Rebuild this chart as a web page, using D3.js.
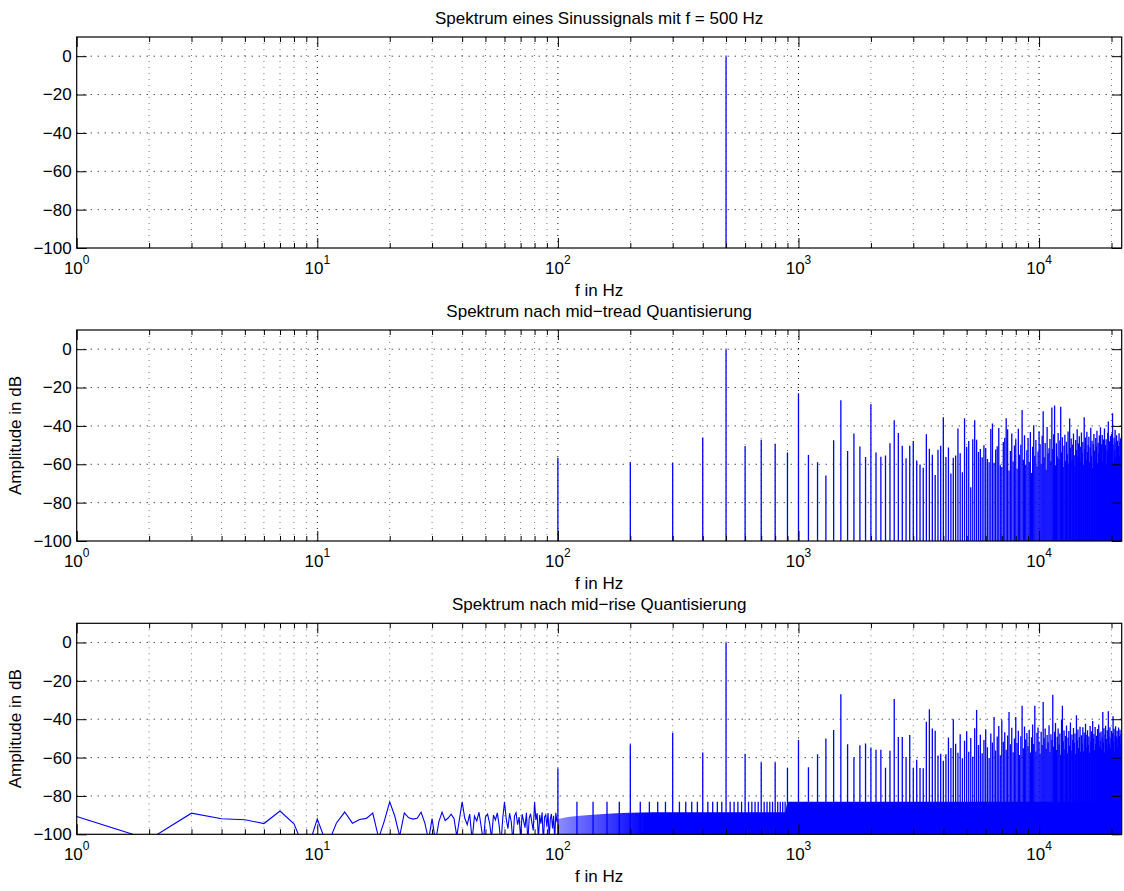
<!DOCTYPE html>
<html><head><meta charset="utf-8">
<script src="https://cdn.jsdelivr.net/npm/d3@7"></script>
<style>body{margin:0;background:#fff;} svg{display:block;}</style>
</head><body>
<svg id="chart" width="1124" height="891"></svg>
<script>
// ---------------- data ----------------
const panelTitles = [
  "Spektrum eines Sinussignals mit f = 500 Hz",
  "Spektrum nach mid\u2212tread Quantisierung",
  "Spektrum nach mid\u2212rise Quantisierung"
];
const xLabel = "f in Hz";
const yLabel = "Amplitude in dB";
const yTicks = [-100, -80, -60, -40, -20, 0];
const xDecades = [1, 10, 100, 1000, 10000];
const xTickExponents = ["0", "1", "2", "3", "4"];

// panel 1: pure sine
const sineFreqs = [500];
const sineDb = [0];

// harmonic grid (aliased harmonics fall on multiples of 100 Hz)
const harmonicFreqs = [
  100,200,300,400,500,600,700,800,900,1000,
  1100,1200,1300,1400,1500,1600,1700,1800,1900,2000,
  2100,2200,2300,2400,2500,2600,2700,2800,2900,3000,
  3100,3200,3300,3400,3500,3600,3700,3800,3900,4000,
  4100,4200,4300,4400,4500,4600,4700,4800,4900,5000,
  5100,5200,5300,5400,5500,5600,5700,5800,5900,6000,
  6100,6200,6300,6400,6500,6600,6700,6800,6900,7000,
  7100,7200,7300,7400,7500,7600,7700,7800,7900,8000,
  8100,8200,8300,8400,8500,8600,8700,8800,8900,9000,
  9100,9200,9300,9400,9500,9600,9700,9800,9900,10000,
  10100,10200,10300,10400,10500,10600,10700,10800,10900,11000,
  11100,11200,11300,11400,11500,11600,11700,11800,11900,12000,
  12100,12200,12300,12400,12500,12600,12700,12800,12900,13000,
  13100,13200,13300,13400,13500,13600,13700,13800,13900,14000,
  14100,14200,14300,14400,14500,14600,14700,14800,14900,15000,
  15100,15200,15300,15400,15500,15600,15700,15800,15900,16000,
  16100,16200,16300,16400,16500,16600,16700,16800,16900,17000,
  17100,17200,17300,17400,17500,17600,17700,17800,17900,18000,
  18100,18200,18300,18400,18500,18600,18700,18800,18900,19000,
  19100,19200,19300,19400,19500,19600,19700,19800,19900,20000,
  20100,20200,20300,20400,20500,20600,20700,20800,20900,21000,
  21100,21200,21300,21400,21500,21600,21700,21800,21900,22000
];

// panel 2: mid-tread quantisation, level of each line in dB
const midTreadDb = [
  -56.6,-58.9,-59.4,-46.1,0,-50.5,-47.2,-49.3,-53.8,-23.0,
  -55.2,-59.0,-65.8,-47.5,-26.6,-53.1,-43.9,-50.7,-56.2,-28.6,
  -53.8,-56.1,-55.4,-49.1,-37.1,-43.7,-50.3,-56.8,-50.3,-47.9,
  -58.0,-60.1,-61.8,-44.4,-51.9,-55.0,-65.6,-52.4,-50.3,-35.5,
  -56.2,-51.2,-64.8,-56.6,-55.4,-41.3,-54.3,-64.1,-36.0,-50.8,
  -47.9,-72.0,-46.9,-37.0,-47.2,-53.6,-52.1,-56.4,-50.1,-51.5,
  -57.3,-58.9,-41.6,-38.8,-59.2,-52.3,-50.6,-41.1,-60.5,-61.4,
  -48.4,-46.2,-36.0,-41.8,-63.2,-53.1,-44.0,-58.5,-50.2,-47.0,
  -62.3,-41.5,-55.0,-49.8,-31.7,-57.6,-44.9,-60.2,-52.7,-46.3,
  -58.8,-43.2,-64.5,-50.9,-39.7,-55.6,-47.4,-61.0,-53.3,-42.8,
  -49.5,-59.7,-45.1,-32.3,-56.4,-48.9,-62.8,-40.6,-54.2,-51.7,
  -46.8,-58.3,-30.4,-52.0,-44.3,-29.3,-60.5,-49.0,-55.9,-43.7,
  -57.2,-47.6,-30.0,-53.8,-45.9,-61.4,-50.3,-44.6,-58.1,-48.2,
  -54.7,-42.9,-59.6,-36.1,-51.4,-46.5,-57.8,-49.7,-44.0,-55.3,
  -60.9,-47.3,-52.6,-41.8,-56.0,-49.2,-45.4,-58.7,-50.8,-43.5,
  -54.1,-48.4,-60.3,-35.5,-51.9,-46.0,-57.4,-43.1,-53.6,-49.9,
  -45.7,-58.9,-51.1,-41.0,-55.5,-47.8,-62.0,-49.4,-44.2,-53.0,
  -57.9,-46.3,-50.6,-42.5,-59.3,-48.8,-54.4,-45.0,-52.2,-40.7,
  -56.7,-49.6,-44.8,-58.4,-47.1,-53.9,-41.4,-55.8,-50.0,-46.9,
  -60.1,-52.8,-43.6,-37.7,-54.5,-48.0,-57.0,-45.3,-51.3,-44.1,
  -55.0,-33.4,-49.7,-58.6,-46.2,-52.5,-42.0,-56.3,-48.6,-44.9,
  -53.4,-47.7,-59.0,-50.5,-43.8,-55.7,-48.3,-46.6,-52.9,-45.5
];

// panel 3: mid-rise quantisation, level of each line in dB
const midRiseDb = [
  -65.7,-53.1,-47.0,-57.3,0,-58.0,-62.5,-62.5,-65.5,-50.8,
  -65.1,-58.3,-50.0,-45.6,-27.0,-53.1,-59.9,-53.6,-52.7,-54.8,
  -55.9,-55.9,-65.3,-56.4,-29.4,-49.3,-49.3,-59.7,-48.2,-65.5,
  -61.1,-65.5,-65.6,-41.3,-34.8,-44.8,-46.0,-58.9,-58.0,-61.6,
  -58.3,-49.5,-55.0,-40.0,-52.8,-57.5,-47.9,-60.4,-51.2,-46.3,
  -56.9,-49.8,-59.6,-44.7,-35.2,-53.4,-48.1,-57.7,-50.9,-45.2,
  -54.6,-60.2,-47.5,-52.1,-38.8,-56.3,-49.0,-43.6,-58.8,-40.5,
  -51.7,-46.8,-55.9,-48.5,-36.3,-53.0,-44.4,-57.2,-50.1,-38.9,
  -52.4,-46.0,-58.6,-48.9,-33.0,-55.1,-43.8,-50.6,-47.2,-54.0,
  -45.5,-57.3,-49.4,-42.7,-52.9,-33.0,-56.8,-47.1,-44.3,-51.6,
  -58.0,-46.6,-53.5,-31.0,-49.8,-44.9,-55.4,-48.2,-52.0,-43.1,
  -57.1,-47.8,-50.9,-27.2,-54.3,-46.5,-42.0,-56.0,-49.1,-44.8,
  -53.2,-47.4,-58.5,-40.2,-33.0,-51.5,-45.9,-55.6,-48.7,-43.3,
  -57.8,-49.6,-46.1,-53.9,-41.7,-56.4,-48.0,-50.8,-44.6,-52.3,
  -47.5,-58.2,-38.0,-51.0,-45.4,-55.0,-49.3,-43.9,-57.0,-48.4,
  -52.6,-44.2,-56.7,-46.9,-50.2,-42.4,-54.8,-48.1,-45.7,-53.5,
  -49.0,-57.5,-43.5,-51.8,-46.3,-55.2,-40.9,-50.1,-47.7,-56.1,
  -44.0,-52.9,-48.6,-58.0,-45.1,-50.7,-42.8,-54.2,-47.0,-51.4,
  -46.4,-55.7,-49.5,-36.2,-52.0,-44.7,-57.3,-48.0,-43.4,-53.6,
  -50.3,-45.8,-56.4,-35.8,-48.9,-52.7,-44.2,-55.0,-49.8,-46.1,
  -53.1,-47.3,-38.4,-51.6,-45.0,-56.9,-48.4,-43.7,-52.4,-49.0,
  -46.0,-54.5,-50.1,-44.3,-57.6,-48.8,-45.5,-53.0,-47.9,-51.2
];

// panel 3: quantisation noise, 1 Hz bins below 100 Hz
const lowNoiseFreqs = [
  1,2,3,4,5,6,7,8,9,10,11,12,13,14,15,16,17,18,19,20,
  21,22,23,24,25,26,27,28,29,30,31,32,33,34,35,36,37,38,39,40,
  41,42,43,44,45,46,47,48,49,50,51,52,53,54,55,56,57,58,59,60,
  61,62,63,64,65,66,67,68,69,70,71,72,73,74,75,76,77,78,79,80,
  81,82,83,84,85,86,87,88,89,90,91,92,93,94,95,96,97,98,99
];
const lowNoiseDb = [
  -90.7,-102.7,-89.0,-91.9,-92.4,-94.4,-87.9,-94.5,-110,-92.0,-106,-94.2,-88.4,-94.2,-92.3,-91.7,-88.9,-102,-93.0,-83.1,
  -90.6,-101,-88.9,-91.4,-92.1,-91.6,-88.5,-94.2,-103,-91.8,-104,-93.5,-88.4,-92.8,-91.5,-89.5,-91.8,-101,-92.0,-83.1,
  -91.5,-95.0,-89.5,-103,-90.5,-93.0,-88.5,-96.0,-104,-91.0,-89.5,-94.0,-102,-90.0,-92.5,-88.8,-95.5,-105,-91.5,-83.1,
  -92.0,-97.0,-89.0,-93.5,-104,-90.5,-88.7,-95.0,-91.0,-102,-89.5,-93.0,-96.5,-88.8,-104,-91.5,-89.3,-94.0,-98.0,-83.1,
  -92.5,-89.0,-103,-90.0,-94.5,-88.6,-105,-91.0,-89.8,-96.0,-88.9,-102,-92.0,-89.4,-97.0,-90.3,-104,-88.8,-93.0
];

// panel 3: dense noise floor above 100 Hz (upper envelope)
const bandFreqs = [100, 110, 120, 135, 150, 175, 200, 250, 300, 500, 880, 900, 22050];
const bandTopDb = [-92.0, -91.0, -90.5, -90.0, -89.5, -89.0, -88.7, -88.5, -88.5, -88.5, -88.5, -83.0, -83.0];

// panel 3: 20 Hz spaced noise lines between 100 Hz and 900 Hz
const subFreqs = [120,140,160,180,220,240,260,280,320,340,360,380,420,440,460,480,
  520,540,560,580,620,640,660,680,720,740,760,780,820,840,860,880];
const subDb = [-83,-83,-83,-83,-83,-83,-83,-83,-83,-83,-83,-83,-83,-83,-83,-83,
  -83,-83,-83,-83,-83,-83,-83,-83,-83,-83,-83,-83,-83,-83,-83,-83];

// ---------------- drawing ----------------
const FONT = '"Liberation Sans", Arial, Helvetica, sans-serif';
const FS = 17;
const BLUE = "#0000ff";
const svg = d3.select("#chart");
const defs = svg.append("defs");

const X0 = 76.7, X1 = 1121.7;
const x = d3.scaleLog().domain([1, 22050]).range([X0, X1]);
const panelTops = [37, 330, 623.3];
const PH = 211;

const minorX = [];
xDecades.forEach(d => { for (let k = 2; k <= 9; k++) if (k * d < 22050) minorX.push(k * d); });

// fade of the noise band where the 1 Hz bins are still partly resolved
const grad = defs.append("linearGradient").attr("id", "bandFade")
  .attr("gradientUnits", "userSpaceOnUse")
  .attr("x1", x(100)).attr("x2", x(230)).attr("y1", 0).attr("y2", 0);
grad.append("stop").attr("offset", 0).attr("stop-color", BLUE).attr("stop-opacity", 0.45);
grad.append("stop").attr("offset", 1).attr("stop-color", BLUE).attr("stop-opacity", 1);

function styleAxis(sel) {
  sel.select(".domain").remove();
  sel.selectAll(".tick line").attr("stroke", "#000").attr("stroke-width", 1);
  sel.attr("font-family", FONT).attr("font-size", FS);
  sel.selectAll("text").attr("fill", "#000");
}

function drawPanel(i, showYLabel, drawData) {
  const top = panelTops[i], bottom = top + PH;
  const y = d3.scaleLinear().domain([-100, 10]).range([bottom, top]);
  const g = svg.append("g");

  // grid (dotted)
  const grid = g.append("g");
  grid.selectAll("line.gminor").data(minorX).join("line").attr("class", "gminor")
    .attr("x1", d => x(d)).attr("x2", d => x(d)).attr("y1", top).attr("y2", bottom)
    .attr("stroke", "#777").attr("stroke-width", 1).attr("stroke-dasharray", "1,5");
  grid.selectAll("line.gmajor").data(xDecades.slice(1)).join("line").attr("class", "gmajor")
    .attr("x1", d => x(d)).attr("x2", d => x(d)).attr("y1", top).attr("y2", bottom)
    .attr("stroke", "#000").attr("stroke-width", 1).attr("stroke-dasharray", "1,5");
  grid.selectAll("line.gy").data(yTicks.slice(1)).join("line").attr("class", "gy")
    .attr("x1", X0).attr("x2", X1).attr("y1", d => y(d)).attr("y2", d => y(d))
    .attr("stroke", "#000").attr("stroke-width", 1).attr("stroke-dasharray", "1,6");

  // data
  const clipId = "clip" + i;
  defs.append("clipPath").attr("id", clipId).append("rect")
    .attr("x", X0).attr("y", top).attr("width", X1 - X0).attr("height", PH);
  const dg = g.append("g").attr("clip-path", `url(#${clipId})`);
  drawData(dg, y);

  // box
  g.append("rect").attr("x", X0).attr("y", top).attr("width", X1 - X0).attr("height", PH)
    .attr("fill", "none").attr("stroke", "#000").attr("stroke-width", 1.2);

  // ticks (inward on all sides)
  g.append("g").attr("transform", `translate(0,${bottom})`)
    .call(d3.axisBottom(x).tickValues(xDecades).tickSizeInner(-10).tickSizeOuter(0).tickFormat(""))
    .call(styleAxis);
  g.append("g").attr("transform", `translate(0,${bottom})`)
    .call(d3.axisBottom(x).tickValues(minorX).tickSizeInner(-5).tickSizeOuter(0).tickFormat(""))
    .call(styleAxis);
  g.append("g").attr("transform", `translate(0,${top})`)
    .call(d3.axisTop(x).tickValues(xDecades).tickSizeInner(-10).tickSizeOuter(0).tickFormat(""))
    .call(styleAxis);
  g.append("g").attr("transform", `translate(0,${top})`)
    .call(d3.axisTop(x).tickValues(minorX).tickSizeInner(-5).tickSizeOuter(0).tickFormat(""))
    .call(styleAxis);
  g.append("g").attr("transform", `translate(${X0},0)`)
    .call(d3.axisLeft(y).tickValues(yTicks).tickSizeInner(-10).tickSizeOuter(0).tickPadding(5)
      .tickFormat(d => d < 0 ? "\u2212" + (-d) : String(d)))
    .call(styleAxis);
  g.append("g").attr("transform", `translate(${X1},0)`)
    .call(d3.axisRight(y).tickValues(yTicks).tickSizeInner(-10).tickSizeOuter(0).tickFormat(""))
    .call(styleAxis);

  // x tick labels 10^n
  const xl = g.append("g").attr("font-family", FONT).attr("fill", "#000");
  xDecades.forEach((d, k) => {
    const t = xl.append("text").attr("x", x(d)).attr("y", bottom + 26)
      .attr("text-anchor", "middle").attr("font-size", FS);
    t.append("tspan").text("10");
    t.append("tspan").attr("dy", -10).attr("font-size", 12).text(xTickExponents[k]);
  });

  // title & axis labels
  g.append("text").attr("x", (X0 + X1) / 2).attr("y", top - 13)
    .attr("text-anchor", "middle").attr("font-family", FONT).attr("font-size", FS)
    .attr("fill", "#000").text(panelTitles[i]);
  g.append("text").attr("x", (X0 + X1) / 2).attr("y", bottom + 48)
    .attr("text-anchor", "middle").attr("font-family", FONT).attr("font-size", FS)
    .attr("fill", "#000").text(xLabel);
  if (showYLabel) {
    g.append("text").attr("transform", `translate(21,${(top + bottom) / 2}) rotate(-90)`)
      .attr("text-anchor", "middle").attr("font-family", FONT).attr("font-size", FS)
      .attr("fill", "#000").text(yLabel);
  }
}

function spikes(dg, y, freqs, vals, base) {
  dg.append("g").selectAll("line").data(d3.zip(freqs, vals)).join("line")
    .attr("x1", d => x(d[0])).attr("x2", d => x(d[0]))
    .attr("y1", y(base)).attr("y2", d => y(d[1]))
    .attr("stroke", BLUE).attr("stroke-width", 1.3);
}

// panel 1
drawPanel(0, false, (dg, y) => {
  spikes(dg, y, sineFreqs, sineDb, -110);
});

// panel 2
drawPanel(1, true, (dg, y) => {
  spikes(dg, y, harmonicFreqs, midTreadDb, -110);
});

// panel 3
drawPanel(2, true, (dg, y) => {
  const area = d3.area().x(d => x(d[0])).y0(y(-110)).y1(d => y(d[1]));
  dg.append("path").datum(d3.zip(bandFreqs, bandTopDb)).attr("d", area).attr("fill", "url(#bandFade)");
  spikes(dg, y, subFreqs, subDb, -110);
  const line = d3.line().x(d => x(d[0])).y(d => y(d[1]));
  dg.append("path").datum(d3.zip(lowNoiseFreqs, lowNoiseDb).concat([[bandFreqs[0], bandTopDb[0]]]))
    .attr("d", line).attr("fill", "none").attr("stroke", BLUE).attr("stroke-width", 1.1);
  spikes(dg, y, harmonicFreqs, midRiseDb, -110);
});
</script>
</body></html>
